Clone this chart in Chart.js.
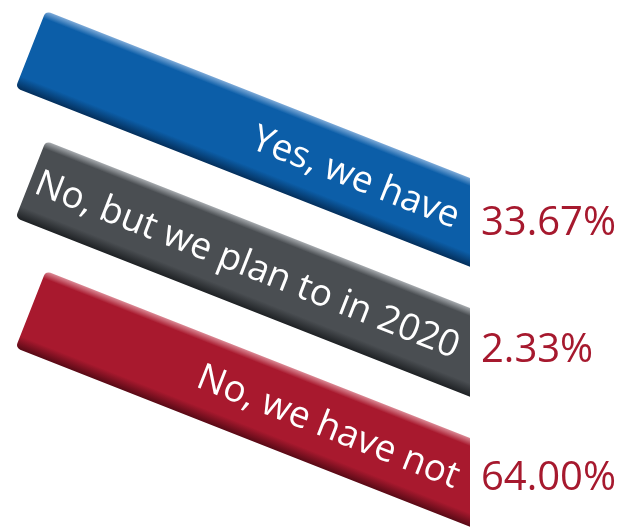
<!DOCTYPE html>
<html>
<head>
<meta charset="utf-8">
<script src="https://cdn.jsdelivr.net/npm/chart.js@4.4.1/dist/chart.umd.min.js"></script>
<style>
  html, body { margin: 0; padding: 0; background: #ffffff; }
  canvas { display: block; }
</style>
</head>
<body>
<canvas id="chart" width="637" height="530"></canvas>
<script>
// Survey answers and their shares of respondents
const answers = ['Yes, we have', 'No, but we plan to in 2020', 'No, we have not'];
const shares = [33.67, 2.33, 64.00];
// Every banner spans the full 0–100 % axis; the share is printed beside it
const bannerSpan = [100, 100, 100];

// Banner colours: top highlight, body, bottom shadow
const palette = [
  { light: '#79a7d6', base: '#0c5ea8', dark: '#04305d' },
  { light: '#a3a7ab', base: '#4a4e52', dark: '#1f2225' },
  { light: '#d98591', base: '#a8192e', dark: '#5a0a16' }
];

const TILT = 21.5 * Math.PI / 180;   // banner slope
const CUT_X = 470;                   // vertical edge where the banners are cut off
const BAR_H = 82;                    // banner thickness
const FONT = '"Open Sans", Lato, sans-serif';

function bannerFill(i) {
  return (c) => {
    const chart = c.chart;
    if (!chart.chartArea) return palette[i].base;
    const y = chart.scales.y.getPixelForValue(i);
    const g = chart.ctx.createLinearGradient(0, y - BAR_H / 2, 0, y + BAR_H / 2);
    g.addColorStop(0, palette[i].light);
    g.addColorStop(0.09, palette[i].base);
    g.addColorStop(0.85, palette[i].base);
    g.addColorStop(1, palette[i].dark);
    return g;
  };
}

// Tilts each banner about its left end, clips it at CUT_X and writes its labels
const tiltPlugin = {
  id: 'tilt',
  beforeDatasetDraw(chart, args) {
    const bar = args.meta.data[args.index];
    const ctx = chart.ctx;
    const px = bar.base, py = bar.y;
    ctx.save();
    ctx.beginPath();
    ctx.rect(0, 0, CUT_X, chart.height);
    ctx.clip();
    ctx.translate(px, py);
    ctx.rotate(TILT);
    ctx.translate(-px, -py);
  },
  afterDatasetDraw(chart, args) {
    const i = args.index;
    const bar = args.meta.data[i];
    const ctx = chart.ctx;
    const px = bar.base, py = bar.y;

    // answer text, inside the tilted banner
    ctx.fillStyle = '#ffffff';
    ctx.font = '37px ' + FONT;
    ctx.textAlign = 'right';
    ctx.textBaseline = 'middle';
    ctx.fillText(answers[i], px + (CUT_X - 12 - px) / Math.cos(TILT), py + 1);
    ctx.restore();

    // share, beside the cut edge
    const yEdge = py + (CUT_X - px) * Math.tan(TILT);
    ctx.save();
    ctx.fillStyle = '#a6192e';
    ctx.font = '40px ' + FONT;
    ctx.textAlign = 'left';
    ctx.textBaseline = 'middle';
    ctx.fillText(shares[i].toFixed(2) + '%', CUT_X + 11, yEdge + 1 - 2.5 * i);
    ctx.restore();
  }
};

const datasets = answers.map((a, i) => ({
  label: a,
  data: answers.map((_, j) => (j === i ? bannerSpan[i] : null)),
  backgroundColor: bannerFill(i),
  borderWidth: 0,
  borderRadius: 5,
  borderSkipped: false,
  barThickness: BAR_H,
  grouped: false,
  clip: false
}));

new Chart(document.getElementById('chart'), {
  type: 'bar',
  data: { labels: answers, datasets },
  options: {
    indexAxis: 'y',
    responsive: false,
    animation: false,
    layout: { padding: { left: 31, right: 0, top: 49.5, bottom: 220.5 } },
    plugins: { legend: { display: false }, tooltip: { enabled: false } },
    scales: {
      x: { display: false, min: 0, max: 100 },
      y: { display: false, offset: false }
    }
  },
  plugins: [tiltPlugin]
});
</script>
</body>
</html>
